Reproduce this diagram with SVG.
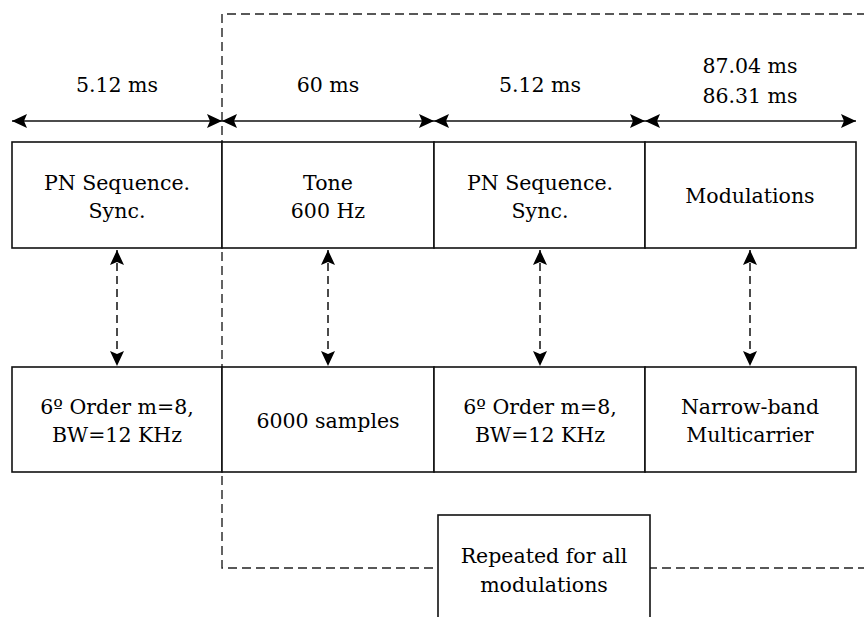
<svg xmlns="http://www.w3.org/2000/svg" width="864" height="617" viewBox="0 0 864 617">
<defs>
<marker id="ah" viewBox="0 0 15 14" refX="15" refY="7" markerWidth="15" markerHeight="14" markerUnits="userSpaceOnUse" orient="auto-start-reverse">
<path d="M0,0 L15,7 L0,14 L3,7 z" fill="#000"/>
</marker>
<style>
text{font-family:"DejaVu Serif","Liberation Serif",serif;font-size:20.5px;fill:#000;text-anchor:middle}
.box{fill:#fff;stroke:#111;stroke-width:1.6}
.dim{stroke:#111;stroke-width:1.5;fill:none;marker-start:url(#ah);marker-end:url(#ah)}
.link{stroke:#111;stroke-width:1.5;fill:none;stroke-dasharray:8 5;marker-start:url(#ah);marker-end:url(#ah)}
.frame{stroke:#222;stroke-width:1.4;fill:none;stroke-dasharray:9 5}
</style>
</defs>
<rect width="864" height="617" fill="#fff"/>
<g id="repeat-frame">
<path class="frame" d="M866,14 H222 V568 H866"/>
</g>
<g id="connectors">
<line class="dim" x1="12" y1="121" x2="222" y2="121"/>
<line class="dim" x1="222" y1="121" x2="434" y2="121"/>
<line class="dim" x1="434" y1="121" x2="645" y2="121"/>
<line class="dim" x1="645" y1="121" x2="856" y2="121"/>
<line class="link" x1="117" y1="250" x2="117" y2="366"/>
<line class="link" x1="328" y1="250" x2="328" y2="366"/>
<line class="link" x1="540" y1="250" x2="540" y2="366"/>
<line class="link" x1="750" y1="250" x2="750" y2="366"/>
</g>
<g id="dim-labels">
<text x="117" y="92">5.12 ms</text>
<text x="328" y="92">60 ms</text>
<text x="540" y="92">5.12 ms</text>
<text x="750" y="73">87.04 ms</text>
<text x="750" y="103">86.31 ms</text>
</g>
<g id="top-pn1"><rect class="box" x="12" y="142" width="210" height="106"/><text x="117" y="190">PN Sequence.</text><text x="117" y="218">Sync.</text></g>
<g id="top-tone"><rect class="box" x="222" y="142" width="212" height="106"/><text x="328" y="190">Tone</text><text x="328" y="218">600 Hz</text></g>
<g id="top-pn2"><rect class="box" x="434" y="142" width="211" height="106"/><text x="540" y="190">PN Sequence.</text><text x="540" y="218">Sync.</text></g>
<g id="top-mod"><rect class="box" x="645" y="142" width="211" height="106"/><text x="750" y="203">Modulations</text></g>
<g id="bot-pn1"><rect class="box" x="12" y="367" width="210" height="105"/><text x="117" y="414">6º Order m=8,</text><text x="117" y="442">BW=12 KHz</text></g>
<g id="bot-tone"><rect class="box" x="222" y="367" width="212" height="105"/><text x="328" y="428">6000 samples</text></g>
<g id="bot-pn2"><rect class="box" x="434" y="367" width="211" height="105"/><text x="540" y="414">6º Order m=8,</text><text x="540" y="442">BW=12 KHz</text></g>
<g id="bot-mod"><rect class="box" x="645" y="367" width="211" height="105"/><text x="750" y="414">Narrow-band</text><text x="750" y="442">Multicarrier</text></g>
<g id="repeated"><rect class="box" x="438" y="515" width="212" height="110"/><text x="544" y="563">Repeated for all</text><text x="544" y="592">modulations</text></g>
</svg>
